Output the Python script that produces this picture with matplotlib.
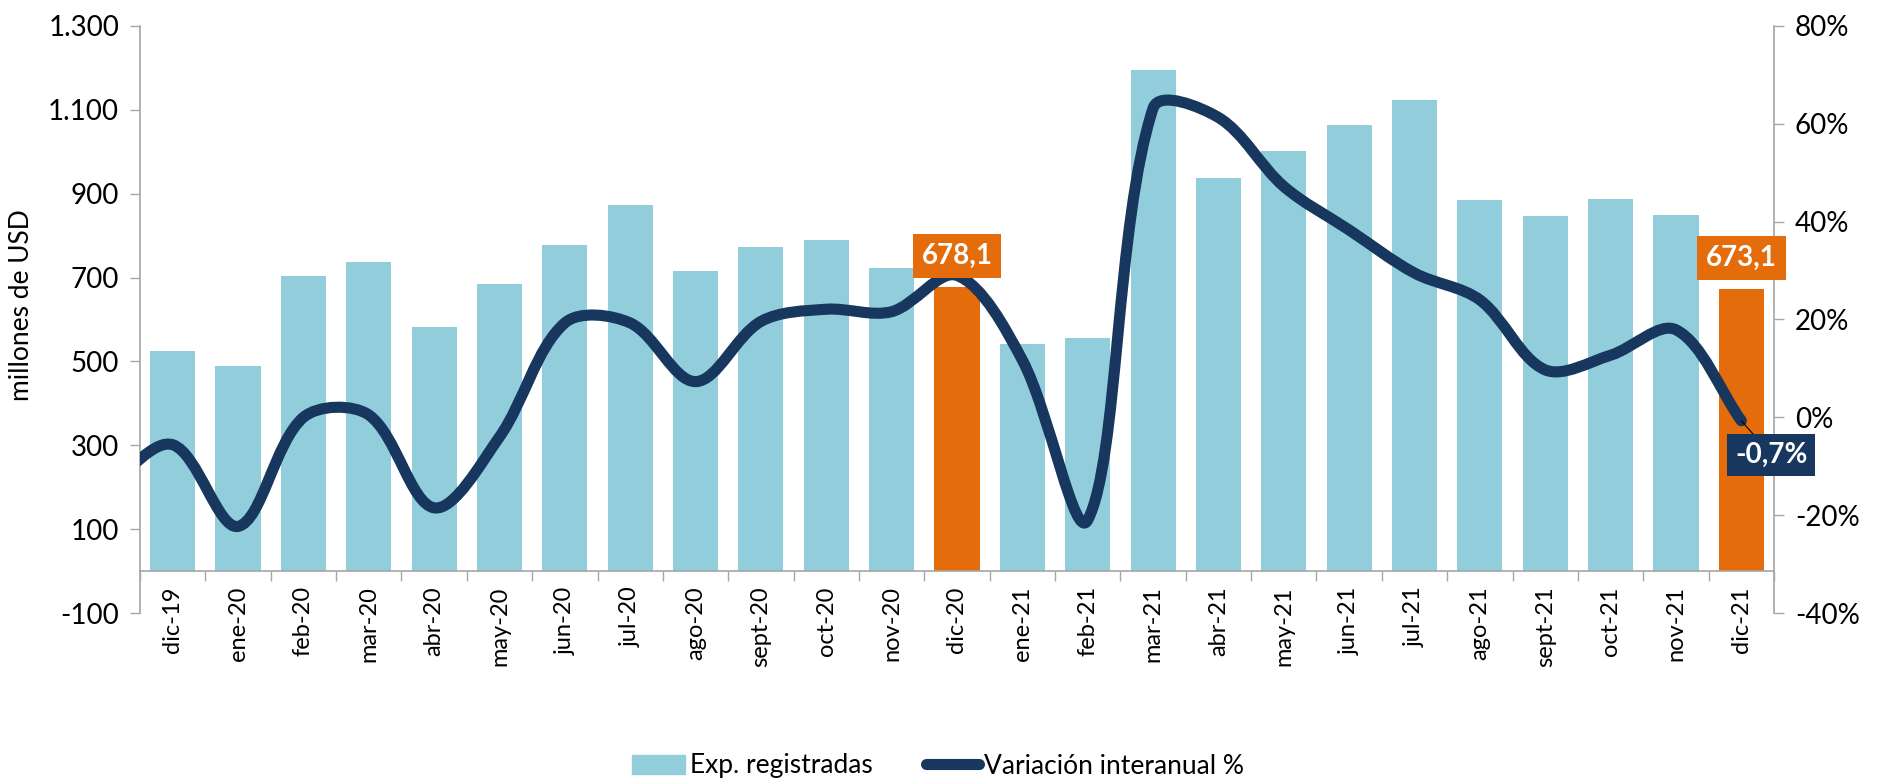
import matplotlib
matplotlib.use("Agg")
import matplotlib.pyplot as plt
import numpy as np
from matplotlib.path import Path
from matplotlib.patches import PathPatch, Patch
from matplotlib.lines import Line2D

plt.rcParams['font.family'] = ['Lato', 'DejaVu Sans']

# data
meses = ['dic-19', 'ene-20', 'feb-20', 'mar-20', 'abr-20', 'may-20', 'jun-20', 'jul-20',
         'ago-20', 'sept-20', 'oct-20', 'nov-20', 'dic-20', 'ene-21', 'feb-21', 'mar-21',
         'abr-21', 'may-21', 'jun-21', 'jul-21', 'ago-21', 'sept-21', 'oct-21', 'nov-21', 'dic-21']
exportaciones = [524, 490, 704, 738, 581, 684, 778, 874, 716, 774, 790, 724, 678.1,
                 542, 557, 1195, 938, 1002, 1064, 1124, 884, 848, 888, 850, 673.1]
variacion = [-5.6, -22.3, 0.0, 0.5, -18.5, -4.0, 19.3, 19.3, 7.3, 19.6, 22.1, 21.6, 29.0,
             11.7, -21.0, 63.2, 61.3, 47.2, 38.3, 29.5, 24.0, 9.7, 12.7, 17.9, -0.7]
variacion_nov19 = -14.0   # punto previo, solo entra el tramo inicial de la curva
destacados = [12, 24]

azul_claro = '#92CDDC'
naranja = '#E46C0A'
azul_osc = '#17375E'
gris = '#A6A6A6'

fig = plt.figure(figsize=(18.77, 7.83), dpi=100)
ax = fig.add_axes([140/1877, 1-613/783, (1774-140)/1877, (613-26)/783])

x = np.arange(len(meses))
colores = [naranja if i in destacados else azul_claro for i in x]
ax.bar(x, exportaciones, width=0.69, color=colores, zorder=2)

ax.spines['top'].set_visible(False)
ax.spines['right'].set_visible(False)
ax.spines['bottom'].set_position(('data', 0))
for s in ['left', 'bottom']:
    ax.spines[s].set_color(gris)
    ax.spines[s].set_linewidth(1.2)

ax.set_xlim(-0.5, len(meses)-0.5)
ax.set_ylim(-100, 1300)
ax.set_yticks(np.arange(-100, 1301, 200))
ax.set_yticklabels([f"{v:,}".replace(',', '.') for v in np.arange(-100, 1301, 200)])
ax.set_xticks(x, labels=meses)
ax.set_xticks(np.arange(-0.5, len(meses), 1), minor=True)

ax2 = ax.twinx()
ax2.set_ylim(-40, 80)
ax2.set_yticks(np.arange(-40, 81, 20))
ax2.set_yticklabels([f"{v}%" for v in np.arange(-40, 81, 20)])
ax2.tick_params(axis='y', length=7, width=1, color=gris, labelsize=20, pad=8)
for s in ['top', 'left', 'bottom']:
    ax2.spines[s].set_visible(False)
ax2.spines['right'].set_color(gris)
ax2.spines['right'].set_linewidth(1.2)

ax.tick_params(axis='x', which='major', length=0, pad=11, labelrotation=90, labelsize=17)
ax.tick_params(axis='x', which='minor', length=7, width=1, color=gris, direction='out')
ax.tick_params(axis='y', length=7, width=1, color=gris, labelsize=20, pad=8)

# curva suavizada tipo Excel: tangentes ponderadas por la longitud de los tramos en pantalla
sx, sy = 65.4, 4.892
px = np.concatenate([[-1], x]).astype(float)
py = np.array([variacion_nov19] + variacion, dtype=float)
pts = np.column_stack([px, py])
scr = pts * np.array([sx, sy])
n = len(pts)
seg = np.hypot(*np.diff(scr, axis=0).T)
verts = [pts[0]]
codes = [Path.MOVETO]
for i in range(n-1):
    if i > 0:
        t1 = (pts[i+1] - pts[i-1]) * seg[i] / (seg[i-1] + seg[i]) / 3
    else:
        t1 = (pts[1] - pts[0]) / 3
    if i+2 < n:
        t2 = (pts[i+2] - pts[i]) * seg[i] / (seg[i] + seg[i+1]) / 3
    else:
        t2 = (pts[i+1] - pts[i]) / 3
    verts += [pts[i] + t1, pts[i+1] - t2, pts[i+1]]
    codes += [Path.CURVE4] * 3
ax2.add_patch(PathPatch(Path(verts, codes), fill=False, edgecolor=azul_osc,
                        linewidth=8, capstyle='round', joinstyle='round', zorder=3))

# etiquetas
for i in destacados:
    ax2.annotate(f"{exportaciones[i]:.1f}".replace('.', ','), xy=(i, exportaciones[i]),
                 xycoords=ax.transData, xytext=(0, 18), textcoords='offset pixels',
                 ha='center', va='bottom', color='white', fontsize=20, fontweight='bold',
                 bbox=dict(boxstyle='square,pad=0.32', fc=naranja, ec='none'), zorder=5)

ax2.annotate(f"{variacion[-1]:.1f}%".replace('.', ','), xy=(24, variacion[-1]),
             xytext=(30, -34), textcoords='offset pixels', ha='center', va='center',
             color='white', fontsize=20, fontweight='bold',
             bbox=dict(boxstyle='square,pad=0.28', fc=azul_osc, ec='none'),
             arrowprops=dict(arrowstyle='-', color='black', lw=0.8, shrinkA=0, shrinkB=0),
             zorder=5, annotation_clip=False)

fig.text(22/1877, 1-305/783, 'millones de USD', rotation=90, ha='center', va='center', fontsize=19)

handles = [Patch(color=azul_claro, label='Exp. registradas'),
           Line2D([0], [0], color=azul_osc, lw=8, solid_capstyle='round', label='Variación interanual %')]
fig.legend(handles=handles, loc='center', bbox_to_anchor=(938/1877, 1-766/783), ncol=2,
           frameon=False, fontsize=19, handlelength=2.0, handletextpad=0.2, columnspacing=2.0)

fig.savefig('out.png', dpi=100)
